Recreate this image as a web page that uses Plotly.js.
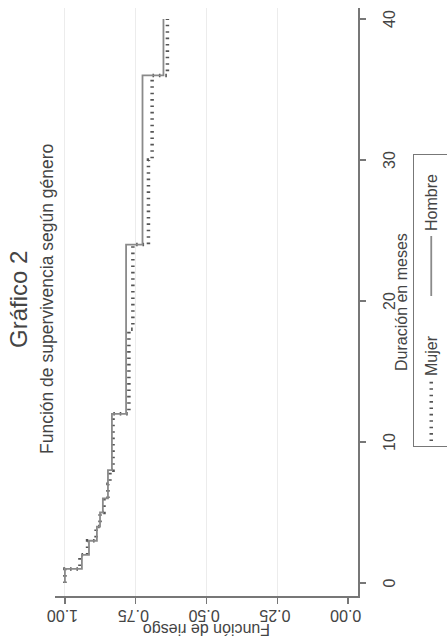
<!DOCTYPE html>
<html>
<head>
<meta charset="utf-8">
<script src="https://cdn.plot.ly/plotly-3.0.1.min.js"></script>
<style>
  html, body { margin: 0; padding: 0; width: 447px; height: 638px; overflow: hidden; background: #ffffff; }
  #chart {
    position: absolute; left: 0; top: 0;
    width: 638px; height: 467px;
    transform-origin: 0 0;
    transform: translate(0px, 638px) rotate(-90deg);
  }
</style>
</head>
<body>
<div id="chart"></div>
<script>
// Duración en meses (step times) and survival estimates
var tiempoHombre = [0, 1, 2, 3, 4, 5, 6, 8, 12, 24, 36, 40];
var survHombre   = [1.000, 0.940, 0.915, 0.887, 0.876, 0.866, 0.848, 0.834, 0.784, 0.726, 0.652, 0.652];

var tiempoMujer = [0, 1, 2, 3, 4, 5, 6, 7, 8, 12, 18, 24, 30, 36, 40];
var survMujer   = [1.000, 0.947, 0.920, 0.890, 0.876, 0.862, 0.848, 0.841, 0.830, 0.774, 0.760, 0.705, 0.692, 0.638, 0.638];

var xTicks = [0, 10, 20, 30, 40];
var yTicks = [0, 0.25, 0.5, 0.75, 1];
var yTickText = ["0.00", "0.25", "0.50", "0.75", "1.00"];

var FONT = "Liberation Sans, Arial, sans-serif";

var traces = [
  {
    x: tiempoMujer, y: survMujer, name: "Mujer", type: "scatter", mode: "lines",
    line: { shape: "hv", color: "#555555", width: 3.5, dash: "1.6px,4.8px" }
  },
  {
    x: tiempoHombre, y: survHombre, name: "Hombre", type: "scatter", mode: "lines",
    line: { shape: "hv", color: "#8a8a8a", width: 1.8 }
  }
];

var layout = {
  width: 638, height: 467,
  margin: { l: 42, r: 8, t: 55, b: 109, autoexpand: false },
  paper_bgcolor: "#ffffff", plot_bgcolor: "#ffffff",
  font: { family: FONT, size: 16, color: "#444444" },
  showlegend: true,
  legend: {
    orientation: "h", x: 0.253, xanchor: "left", y: -0.182, yanchor: "top",
    bordercolor: "#777777", borderwidth: 1.2, bgcolor: "#ffffff",
    font: { family: FONT, size: 16, color: "#444444" },
    itemwidth: 60, entrywidth: 70, tracegroupgap: 0
  },
  xaxis: {
    range: [-0.92, 40.78], tickvals: xTicks, ticktext: xTicks.map(String),
    showgrid: false, zeroline: false,
    showline: true, linecolor: "#777777", linewidth: 1.5,
    ticks: "outside", ticklen: 6, tickcolor: "#777777", tickwidth: 1.3,
    tickfont: { family: FONT, size: 16, color: "#444444" },
    ticklabelstandoff: 10,
    automargin: false
  },
  yaxis: {
    range: [-0.035, 1.035], tickvals: yTicks, ticktext: yTickText, tickangle: -90,
    showgrid: true, gridcolor: "#ececec", gridwidth: 1,
    zeroline: true, zerolinecolor: "#ffffff", zerolinewidth: 1,
    showline: true, linecolor: "#777777", linewidth: 1.5,
    ticks: "outside", ticklen: 6, tickcolor: "#777777", tickwidth: 1.3,
    tickfont: { family: FONT, size: 16, color: "#444444" },
    title: { text: "Función de riesgo", font: { family: FONT, size: 16, color: "#444444" }, standoff: 4 },
    automargin: false
  },
  annotations: [
    { text: "Gráfico 2", xref: "paper", yref: "paper", x: 0.505, y: 1.119,
      xanchor: "center", yanchor: "middle", showarrow: false,
      font: { family: FONT, size: 24, color: "#444444" } },
    { text: "Función de supervivencia según género", xref: "paper", yref: "paper", x: 0.505, y: 1.025,
      xanchor: "center", yanchor: "middle", showarrow: false,
      font: { family: FONT, size: 17.5, color: "#444444" } },
    { text: "Duración en meses", xref: "paper", yref: "paper", x: 0.5, y: -0.142,
      xanchor: "center", yanchor: "middle", showarrow: false,
      font: { family: FONT, size: 16, color: "#444444" } }
  ]
};

Plotly.newPlot("chart", traces, layout, { displayModeBar: false, staticPlot: true });
</script>
</body>
</html>
